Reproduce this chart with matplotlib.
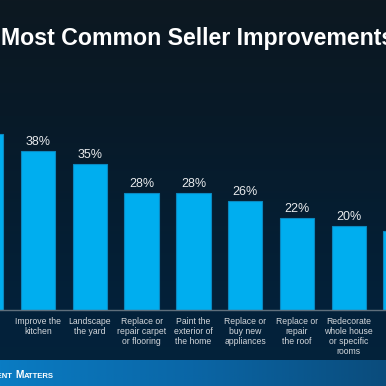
import numpy as np
import matplotlib
matplotlib.use("Agg")
import matplotlib.pyplot as plt
from matplotlib.colors import LinearSegmentedColormap

title = "Most Common Seller Improvements"
categories = [
    "Improve the\nbathroom",
    "Improve the\nkitchen",
    "Landscape\nthe yard",
    "Replace or\nrepair carpet\nor flooring",
    "Paint the\nexterior of\nthe home",
    "Replace or\nbuy new\nappliances",
    "Replace or\nrepair\nthe roof",
    "Redecorate\nwhole house\nor specific\nrooms",
    "Replace or\nupdate\nfurnace",
]
values = [42, 38, 35, 28, 28, 26, 22, 20, 19]
value_labels = [f"{v}%" for v in values]

W = H = 386
fig = plt.figure(figsize=(W / 100, H / 100), dpi=100)

# background gradient
bg = fig.add_axes([0, 0, 1, 1], zorder=0)
bg.set_axis_off()
cmap_bg = LinearSegmentedColormap.from_list(
    "bg", [(0, "#0d1821"), (0.3, "#081a28"), (0.8, "#03213a"), (1, "#04233b")])
grad = np.linspace(0, 1, 256).reshape(-1, 1)
bg.imshow(grad, aspect="auto", cmap=cmap_bg, extent=[0, 1, 0, 1], origin="upper")

# footer band
cmap_ft = LinearSegmentedColormap.from_list("ft", ["#0a7cc3", "#0a66a6", "#0a4c7c"])
hgrad = np.linspace(0, 1, 256).reshape(1, -1)
bg.imshow(hgrad, aspect="auto", cmap=cmap_ft,
          extent=[0, 1, 0, 26 / H], origin="upper", zorder=1)
bg.set_xlim(0, 1)
bg.set_ylim(0, 1)

# main axes
pitch = 51.8
c0 = -13.8
x_lo = (0 - c0) / pitch
x_hi = (W - c0) / pitch
base_px = 310
top_px = 100
ppu = 4.18
ax = fig.add_axes([0, (H - base_px) / H, 1, (base_px - top_px) / H], zorder=2)
ax.patch.set_alpha(0)
x = np.arange(len(categories))
ax.bar(x, values, width=0.667, color="#00aeef", edgecolor="#0b88bf", linewidth=0.8)
for s in ["top", "left", "right"]:
    ax.spines[s].set_visible(False)
ax.spines["bottom"].set_color("#5f6f7c")
ax.spines["bottom"].set_linewidth(1.0)
ax.set_yticks([])
ax.set_xticks(x)
ax.set_xticklabels(categories, fontsize=6.2, color="#d4d8dc",
                   family="Liberation Sans", linespacing=1.12)
ax.tick_params(axis="x", length=0, pad=5.3)
ax.set_xlim(x_lo, x_hi)
ax.set_ylim(0, (base_px - top_px) / ppu)

for xi, v, lab in zip(x, values, value_labels):
    ax.annotate(lab, (xi, v), xytext=(0, 4.3), textcoords="offset points",
                ha="center", va="baseline", fontsize=9, color="#e8eaec",
                family="Liberation Sans")

# title
fig.text(1 / W, 1 - 44.5 / H, title, fontsize=16.7, fontweight="bold",
         color="white", family="Liberation Sans", ha="left", va="baseline")

# footer logo text (small caps)
renderer = fig.canvas.get_renderer()
base_y = 1 - 378.5 / H
big, small = 7.4, 5.6
pieces_left = [("K", big), ("EEPING ", small), ("C", big), ("URRENT ", small)]
x_right = 14.5 / W
for txt, fs in reversed(pieces_left):
    t = fig.text(x_right, base_y, txt, fontsize=fs, fontweight="bold",
                 color="white", family="Liberation Sans", ha="right", va="baseline")
    bb = t.get_window_extent(renderer)
    x_right -= bb.width / W
x_left = 15 / W
for txt, fs in [("M", big), ("ATTERS", small)]:
    t = fig.text(x_left, base_y, txt, fontsize=fs, fontweight="bold",
                 color="white", family="Liberation Sans", ha="left", va="baseline")
    bb = t.get_window_extent(renderer)
    x_left += bb.width / W

fig.savefig("out.png", dpi=100, facecolor="#0d1821")
